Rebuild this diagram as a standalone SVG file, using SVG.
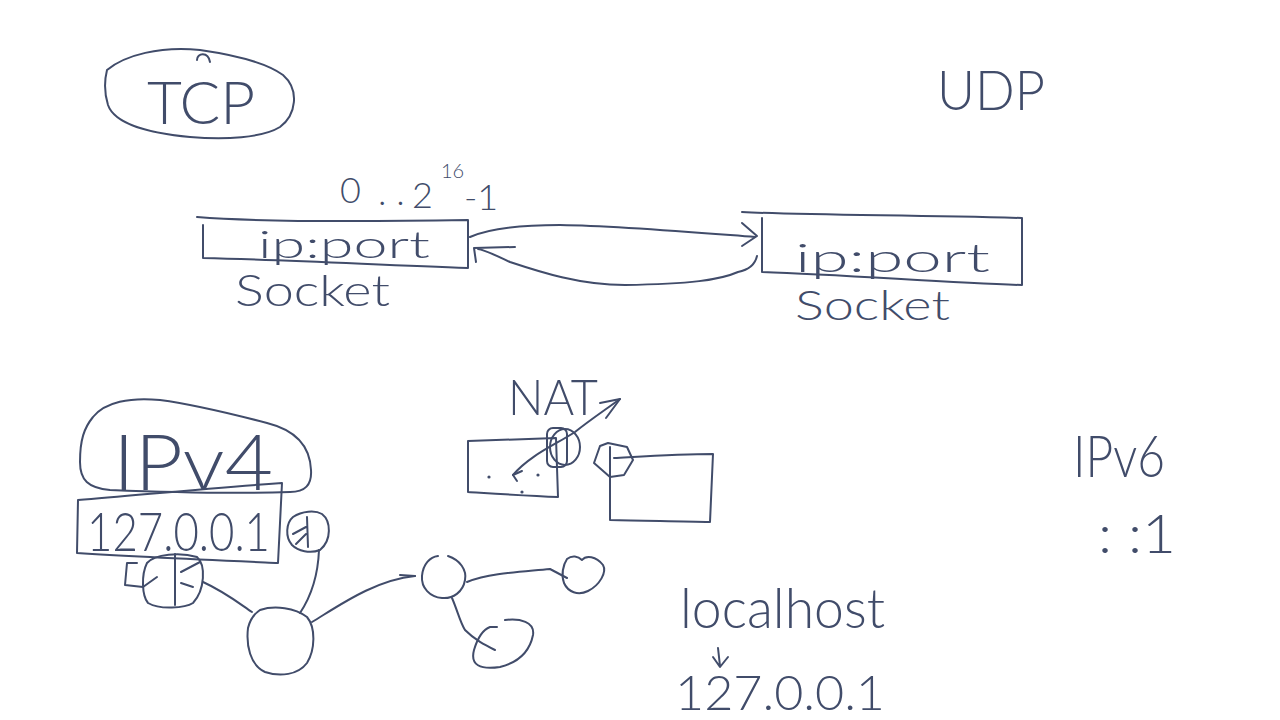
<svg xmlns="http://www.w3.org/2000/svg" width="1280" height="720" viewBox="0 0 1280 720">
<style>
.s{fill:none;stroke:#414c6a;stroke-width:2;stroke-linecap:round;stroke-linejoin:round}
.t{font-family:Lato,"Open Sans","Liberation Sans",sans-serif;font-weight:300;fill:#414c6a}
.d{fill:#414c6a}
</style>
<rect width="1280" height="720" fill="#ffffff"/>

<g id="tcp">
<path class="s" d="M107,70 C125,55 160,46 200,50 C235,55 265,62 283,75 C300,90 296,115 280,127 C262,138 225,140 190,137 C150,133 115,125 108,105 C104,92 105,78 107,70 Z"/>
<path class="s" d="M197,60 C197,53 208,51 210,62"/>
<text class="t" x="147" y="124" font-size="60" textLength="108" lengthAdjust="spacingAndGlyphs">TCP</text>
</g>

<g id="udp">
<text class="t" x="937" y="110" font-size="56" textLength="108" lengthAdjust="spacingAndGlyphs">UDP</text>
</g>

<g id="port-range">
<text class="t" font-size="36"><tspan x="340" y="203">0</tspan><tspan x="378" y="205">. .</tspan><tspan x="412" y="208">2</tspan><tspan x="441" y="178" font-size="20">16</tspan><tspan x="464" y="210">-1</tspan></text>
</g>

<g id="socket-left">
<path class="s" d="M197,217 C260,222 350,222 468,220 L468,268 C380,265 290,260 203,258 L203,225"/>
<text class="t" x="258" y="258" font-size="38" textLength="172" lengthAdjust="spacingAndGlyphs">ip:port</text>
<text class="t" x="235" y="306" font-size="44" textLength="155" lengthAdjust="spacingAndGlyphs">Socket</text>
</g>

<g id="socket-right">
<path class="s" d="M742,212 C800,215 900,215 1022,218 L1022,285 C950,283 850,275 762,272 L762,218"/>
<text class="t" x="795" y="272" font-size="40" textLength="195" lengthAdjust="spacingAndGlyphs">ip:port</text>
<text class="t" x="795" y="320" font-size="42" textLength="155" lengthAdjust="spacingAndGlyphs">Socket</text>
</g>

<g id="ipv4">
<path class="s" d="M93,417 C105,402 130,397 160,400 C190,404 225,412 267,423 C295,430 310,445 311,470 C312,485 305,492 290,492 C230,494 160,492 110,490 C88,488 80,480 80,462 C80,440 84,428 93,417 Z"/>
<text class="t" x="113" y="490" font-size="76" textLength="160" lengthAdjust="spacingAndGlyphs">IPv4</text>
</g>

<g id="loopback-box">
<path class="s" d="M78,500 C140,495 210,488 282,483 L278,563 C210,560 140,557 77,553 Z"/>
<text class="t" x="87" y="551" font-size="54" textLength="183" lengthAdjust="spacingAndGlyphs">127.0.0.1</text>
</g>

<g id="node-a">
<path class="s" d="M293,517 C302,511 315,510 322,514 C331,521 332,540 320,550 C310,554 298,551 292,545 C285,537 286,523 293,517 Z"/>
<path class="s" d="M307,517 L308,547 M293,534 L306,527 M296,544 L306,534"/>
</g>

<g id="node-b">
<path class="s" d="M147,563 C155,554 180,552 197,557 C206,565 205,590 193,603 C185,608 160,610 148,603 C142,596 141,575 147,563 Z"/>
<path class="s" d="M175,554 L175,605 M200,562 L181,572 M181,583 L193,587 M137,563 L127,563 L125,585 L143,587 M143,587 L157,577"/>
</g>

<g id="node-c">
<path class="s" d="M260,610 C275,605 295,608 307,617 C316,628 315,650 307,663 C298,675 280,677 265,672 C250,665 246,645 248,628 C250,620 254,614 260,610 Z"/>
</g>

<g id="node-d">
<path class="s" d="M448,556 C460,560 467,570 465,580 C463,592 453,599 442,598 C430,597 421,588 422,576 C423,564 430,557 438,556"/>
</g>

<g id="node-e">
<path class="s" d="M567,559 C572,555 578,556 582,560 C586,555 596,556 603,565 C607,572 600,585 588,591 C578,596 568,592 564,583 C561,575 563,565 567,559 Z"/>
</g>

<g id="node-f">
<path class="s" d="M505,620 C520,618 535,622 533,635 C530,650 520,662 500,667 C480,670 470,665 474,650 C477,640 482,630 490,627 L497,627"/>
</g>

<g id="nat">
<text class="t" x="508" y="415" font-size="50" textLength="90" lengthAdjust="spacingAndGlyphs">NAT</text>
<path class="s" d="M468,441 C495,440 525,439 556,438 L558,497 C530,496 500,494 468,492 Z"/>
<rect class="s" x="547" y="428" width="20" height="39" rx="6"/>
<ellipse class="s" cx="565" cy="447" rx="15" ry="18"/>
<circle class="d" cx="489" cy="477" r="1.6"/>
<circle class="d" cx="538" cy="475" r="1.6"/>
<circle class="d" cx="522" cy="492" r="1.6"/>
</g>

<g id="nat-target">
<path class="s" d="M600,446 L608,443 L627,447 L633,460 L624,475 L610,477 L594,463 Z"/>
<path class="s" d="M610,447 L610,470"/>
<path class="s" d="M614,458 C650,456 680,454 713,454 L710,522 C680,521 645,521 610,520 L610,455"/>
</g>

<g id="localhost">
<text class="t" x="680" y="628" font-size="56" textLength="205" lengthAdjust="spacingAndGlyphs">localhost</text>
<path class="s" d="M718,648 L720,666 M713,657 L720,667 L728,657"/>
<text class="t" x="675" y="710" font-size="48" textLength="210" lengthAdjust="spacingAndGlyphs">127.0.0.1</text>
</g>

<g id="ipv6">
<text class="t" x="1073" y="477" font-size="58" textLength="92" lengthAdjust="spacingAndGlyphs">IPv6</text>
<text class="t" x="1098" y="553" font-size="54" textLength="78" lengthAdjust="spacingAndGlyphs">: :1</text>
</g>

<g id="connectors">
<path class="s" d="M470,237 C490,228 520,225 560,225 C620,226 690,232 755,237"/>
<path class="s" d="M742,223 L757,236 L742,246"/>
<path class="s" d="M757,256 C755,265 748,270 738,272 C720,280 690,284 625,285 C580,285 540,272 510,262 C495,255 485,250 478,249"/>
<path class="s" d="M476,262 L474,248 L515,247"/>
<path class="s" d="M513,475 C530,455 555,445 575,432 C590,420 605,410 620,399"/>
<path class="s" d="M600,403 L620,399 L606,418"/>
<path class="s" d="M513,475 L522,471 M513,475 L517,481"/>
<path class="s" d="M252,612 C240,604 225,592 203,582"/>
<path class="s" d="M300,613 C312,595 318,575 319,550"/>
<path class="s" d="M312,622 C340,605 375,580 415,576"/>
<path class="s" d="M400,575 L415,576"/>
<path class="s" d="M467,582 C490,573 520,572 550,569 L567,578"/>
<path class="s" d="M452,598 C458,612 460,622 465,630 C475,640 485,645 495,650"/>
</g>
</svg>
